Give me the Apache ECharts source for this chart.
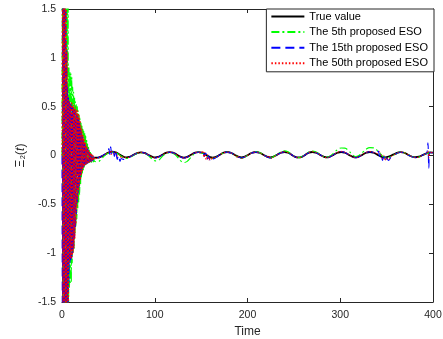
<!DOCTYPE html>
<html>
<head>
<meta charset="utf-8">
<script src="https://cdn.jsdelivr.net/npm/echarts@6/dist/echarts.min.js"></script>
<style>
html,body{margin:0;padding:0;background:#fff;}
#chart{width:443px;height:339px;}
</style>
</head>
<body>
<div id="chart"></div>
<script>
// ---------- DATA ----------
const legendNames = ['True value', 'The 5th proposed ESO', 'The 15th proposed ESO', 'The 50th proposed ESO'];
const xTicks = [0, 100, 200, 300, 400];
const yTicks = [-1.5, -1, -0.5, 0, 0.5, 1, 1.5];

// time points of the initial transient (s)
const tTransient = [
  0, 0.5, 1, 1.5, 2, 2.5, 3, 3.5, 4, 4.5,
  5, 5.5, 6, 6.5, 7, 7.5, 8, 8.5, 9, 9.5,
  10, 10.5, 11, 11.5, 12, 12.5, 13, 13.5, 14, 14.5,
  15, 15.5, 16, 16.5, 17, 17.5, 18, 18.5, 19, 19.5,
  20, 20.5, 21, 21.5, 22, 22.5, 23, 23.5, 24, 24.5,
  25, 25.5, 26, 26.5, 27, 27.5, 28, 28.5, 29, 29.5,
  30, 30.5, 31, 31.5, 32, 32.5, 33, 33.5, 34, 34.5,
  35
];

// True value [time, value]
const trueValue = [
  [0,0],[4,0.01],[8,0.02],[12,0.025],[16,0.02],[20,0.012],[24,0],[28,-0.012],[31,-0.018],[35,-0.022],
  [38.5,-0.022],[42,-0.012],[46,0.008],[50,0.03],[54,0.04],[58,0.032],[62,0.01],[66,-0.01],[69.5,-0.02],
  [73,-0.013],[77,0.006],[81,0.025],[85,0.033],[89,0.026],[93,0.007],[97,-0.012],[100.5,-0.02],
  [104,-0.013],[108,0.007],[112,0.027],[116,0.035],[120,0.028],[124,0.008],[128,-0.013],[131.5,-0.022],
  [135,-0.014],[139,0.007],[143,0.027],[147,0.035],[151,0.028],[155,0.008],[159,-0.013],[162.5,-0.022],
  [166,-0.014],[170,0.007],[174,0.028],[178,0.036],[182,0.028],[186,0.008],[190,-0.012],[193.5,-0.02],
  [197,-0.012],[201,0.008],[205,0.028],[209,0.036],[213,0.028],[217,0.008],[221,-0.012],[224.5,-0.02],
  [228,-0.012],[232,0.008],[236,0.028],[240,0.036],[244,0.028],[247.5,0.008],[251,-0.012],[255,-0.02],
  [259,-0.012],[262.5,0.008],[266,0.028],[270,0.036],[274,0.028],[278,0.008],[282,-0.012],[285.5,-0.02],
  [289,-0.012],[293,0.008],[297,0.028],[301,0.036],[305,0.028],[309,0.008],[313,-0.012],[316.5,-0.02],
  [320,-0.012],[324,0.008],[328,0.028],[332,0.036],[336,0.028],[340,0.008],[344,-0.012],[347.5,-0.02],
  [351,-0.013],[355,0.0],[359,0.018],[365,0.035],[369,0.028],[373,0.008],[377,-0.01],[381,-0.018],
  [385,-0.012],[389,0.005],[393,0.022],[397,0.032],[400,0.03]
];

// 5th proposed ESO
const eso5Transient = [
  0, 2, -2, 2, -2, 2, -2, 2, -2, 2,
  -2, 2, -2, 2, -2, 0.9, -1.35, 0.86, -1.3, 0.84,
  -1.3, 0.8, -1.1, 0.7, -1.0, 0.65, -0.95, 0.6, -0.8, 0.55,
  -0.72, 0.52, -0.65, 0.5, -0.55, 0.46, -0.48, 0.42, -0.4, 0.38,
  -0.3, 0.34, -0.22, 0.3, -0.18, 0.27, -0.15, 0.25, -0.12, 0.23,
  -0.1, 0.2, -0.09, 0.16, -0.085, 0.12, -0.08, 0.09, -0.075, 0.06,
  -0.07, 0.04, -0.07, 0.02, -0.07, 0.0, -0.065, -0.02, -0.065, -0.04,
  -0.06
];
const eso5Steady = [
  [38.5,-0.065],[42,-0.04],[46,0.0],[50,0.025],[54,0.035],[58,0.03],[62,0.005],[66,-0.02],[69.5,-0.03],
  [73,-0.02],[77,0.0],[81,0.022],[85,0.03],[89,0.022],[93,0.0],[97,-0.035],[100.5,-0.055],[104,-0.05],
  [108,-0.01],[112,0.02],[116,0.03],[120,0.02],[124,-0.01],[128,-0.055],[131.5,-0.072],[135,-0.06],
  [139,-0.02],[143,0.02],[147,0.033],[151,0.025],[155,0.005],[159,-0.02],[162.5,-0.03],[166,-0.02],
  [170,0.005],[174,0.026],[178,0.036],[182,0.026],[186,0.005],[190,-0.018],[193.5,-0.028],[197,-0.015],
  [201,0.008],[205,0.03],[209,0.04],[213,0.03],[217,0.008],[221,-0.015],[224.5,-0.025],[228,-0.012],
  [232,0.012],[236,0.035],[240,0.048],[244,0.035],[247.5,0.01],[251,-0.012],[255,-0.022],[259,-0.01],
  [262.5,0.012],[266,0.035],[270,0.045],[274,0.035],[278,0.012],[282,-0.01],[285.5,-0.018],[289,-0.005],
  [293,0.025],[297,0.06],[301,0.077],[305,0.075],[309,0.05],[313,0.01],[316.5,-0.01],[320,0.0],
  [324,0.03],[328,0.065],[332,0.08],[336,0.078],[340,0.05],[344,0.01],[347.5,-0.02],[351,-0.025],
  [355,-0.01],[359,0.01],[365,0.035],[369,0.03],[373,0.01],[377,-0.01],[381,-0.02],[385,-0.015],
  [389,0.0],[393,0.02],[397,0.03],[400,0.03]
];

// 15th proposed ESO
const eso15Transient = [
  0, -2, 2, -2, 2, -2, 2, -2, 2, -2,
  1.08, -2, 0.7, -2, 0.6, -1.3, 0.55, -1.1, 0.53, -1.07,
  0.52, -1.05, 0.5, -1.0, 0.5, -0.95, 0.47, -0.85, 0.46, -0.75,
  0.44, -0.6, 0.42, -0.5, 0.4, -0.4, 0.38, -0.32, 0.33, -0.26,
  0.28, -0.21, 0.24, -0.17, 0.2, -0.14, 0.17, -0.12, 0.14, -0.1,
  0.12, -0.09, 0.1, -0.085, 0.08, -0.08, 0.06, -0.075, 0.045, -0.07,
  0.03, -0.065, 0.02, -0.06, 0.01, -0.055, 0.0, -0.05, -0.01, -0.045,
  -0.035
];
const eso15Steady = [
  [38.5,-0.022],[42,-0.01],[46,0.012],[49,0.03],[50.5,0.07],[51.5,0.01],[52.5,0.09],[53.5,0.02],[55,0.06],
  [56.5,-0.01],[58,0.05],[59.5,-0.04],[61,0.0],[62.5,-0.06],[64,-0.03],[66,-0.04],[69.5,-0.028],
  [73,-0.016],[77,0.004],[81,0.024],[85,0.033],[89,0.026],[93,0.005],[97,-0.016],[100.5,-0.026],
  [104,-0.016],[108,0.005],[112,0.026],[116,0.034],[120,0.027],[124,0.006],[128,-0.016],[131.5,-0.026],
  [135,-0.016],[139,0.006],[143,0.026],[147,0.034],[150.5,0.03],[152,0.05],[153.5,-0.01],[155,0.025],
  [156.5,-0.04],[158,0.0],[159.5,-0.045],[161,-0.015],[163,-0.035],[166,-0.02],[170,0.005],[174,0.026],
  [178,0.035],[182,0.027],[186,0.006],[190,-0.014],[193.5,-0.026],[197,-0.015],[201,0.007],[205,0.027],
  [209,0.035],[213,0.027],[217,0.006],[221,-0.014],[224.5,-0.026],[228,-0.014],[232,0.007],[236,0.027],
  [240,0.036],[244,0.027],[247.5,0.007],[251,-0.013],[255,-0.024],[259,-0.013],[262.5,0.008],[266,0.029],
  [270,0.037],[274,0.029],[278,0.008],[282,-0.013],[285.5,-0.022],[289,-0.012],[293,0.009],[297,0.03],
  [301,0.04],[305,0.031],[309,0.009],[313,-0.012],[316.5,-0.022],[320,-0.012],[324,0.009],[328,0.03],
  [332,0.038],[336,0.03],[339,0.012],[341,0.045],[342.5,-0.01],[344,0.02],[345.5,-0.05],[347,-0.01],
  [348.5,-0.06],[350,-0.025],[352,-0.05],[355,-0.015],[359,0.012],[365,0.033],[369,0.028],[373,0.006],
  [377,-0.012],[381,-0.02],[385,-0.014],[389,0.004],[392,0.018],[393.5,0.03],[394.5,0.13],[395.5,-0.13],
  [396.5,0.03],[400,0.028]
];

// 50th proposed ESO
const eso50Transient = [
  0, 2, -2, 2, -2, 2, -2, 2, -2, 2,
  -2, 1.07, -2, 0.6, -1.6, 0.56, -1.1, 0.55, -1.05, 0.52,
  -1.06, 0.55, -1.04, 0.5, -1.0, 0.52, -0.95, 0.48, -0.85, 0.5,
  -0.7, 0.46, -0.55, 0.47, -0.45, 0.43, -0.36, 0.41, -0.3, 0.36,
  -0.25, 0.3, -0.2, 0.27, -0.16, 0.22, -0.13, 0.19, -0.11, 0.16,
  -0.1, 0.13, -0.09, 0.1, -0.085, 0.08, -0.08, 0.06, -0.075, 0.045,
  -0.07, 0.03, -0.065, 0.02, -0.06, 0.01, -0.055, 0.0, -0.05, -0.01,
  -0.04
];
const eso50Steady = [
  [38.5,-0.025],[42,-0.014],[46,0.01],[50,0.03],[52,0.05],[53,0.005],[54,0.045],[56,0.015],[58,0.035],
  [60,-0.01],[62,0.015],[64,-0.03],[66,-0.008],[69.5,-0.025],[73,-0.015],[77,0.005],[81,0.025],[85,0.033],
  [89,0.025],[93,0.006],[97,-0.015],[100.5,-0.025],[104,-0.016],[108,0.006],[112,0.026],[116,0.035],
  [120,0.027],[124,0.006],[128,-0.016],[131.5,-0.025],[135,-0.016],[139,0.006],[143,0.026],[147,0.034],
  [150,0.02],[151.5,0.05],[153,-0.02],[154,0.035],[155.5,-0.045],[157,0.01],[158.5,-0.05],[160,-0.02],
  [161.5,-0.045],[163,-0.015],[166,-0.02],[170,0.004],[174,0.026],[178,0.036],[182,0.027],[186,0.006],
  [188,0.0],[189,-0.025],[190,-0.01],[193.5,-0.03],[197,-0.015],[201,0.007],[205,0.028],[209,0.036],
  [213,0.027],[217,0.005],[221,-0.015],[222.5,0.0],[224.5,-0.03],[228,-0.015],[232,0.007],[236,0.028],
  [240,0.038],[244,0.028],[247.5,0.007],[251,-0.013],[255,-0.025],[259,-0.013],[262.5,0.008],[266,0.03],
  [270,0.038],[274,0.03],[278,0.008],[282,-0.013],[285.5,-0.022],[289,-0.013],[293,0.01],[297,0.032],
  [301,0.042],[305,0.033],[309,0.01],[313,-0.012],[316.5,-0.022],[320,-0.012],[324,0.01],[328,0.032],
  [332,0.04],[336,0.032],[340,0.02],[342,0.04],[344,0.005],[345.5,-0.03],[347,0.0],[348.5,-0.055],
  [350,-0.02],[352,-0.045],[355,-0.01],[359,0.012],[365,0.035],[369,0.03],[373,0.01],[377,-0.01],
  [381,-0.02],[385,-0.015],[389,0.003],[393,0.02],[394.5,0.05],[395.5,-0.03],[397,0.03],[400,0.03]
];

// ---------- BUILD ----------
function joinSeries(trans, steady) {
  const out = [];
  const n = Math.min(tTransient.length, trans.length);
  for (let i = 0; i < n; i++) out.push([tTransient[i], trans[i]]);
  return out.concat(steady);
}

const FONT = '"Liberation Sans", Arial, Helvetica, sans-serif';
const TXT = '#262626';

const chart = echarts.init(document.getElementById('chart'), null, {renderer: 'canvas'});

const xCommon = {
  type: 'value', min: xTicks[0], max: xTicks[xTicks.length - 1], interval: 100,
  axisLine: {show: true, onZero: false, lineStyle: {color: TXT, width: 1}},
  axisTick: {show: true, inside: true, length: 4, lineStyle: {color: TXT, width: 1}},
  splitLine: {show: false}
};
const yCommon = {
  type: 'value', min: yTicks[0], max: yTicks[yTicks.length - 1], interval: 0.5,
  axisLine: {show: true, onZero: false, lineStyle: {color: TXT, width: 1}},
  axisTick: {show: true, inside: true, length: 4, lineStyle: {color: TXT, width: 1}},
  splitLine: {show: false}
};

const option = {
  animation: false,
  backgroundColor: '#ffffff',
  grid: {left: 62, right: 10, top: 9, bottom: 37, containLabel: false, outerBoundsMode: 'none'},
  legend: {
    data: legendNames,
    orient: 'vertical',
    right: 9, top: 9,
    padding: [2, 6, 3, 4],
    itemGap: 4.6,
    itemWidth: 33,
    itemHeight: 11,
    backgroundColor: '#ffffff',
    borderColor: TXT,
    borderWidth: 1,
    borderRadius: 0,
    itemStyle: {opacity: 0, color: 'rgba(0,0,0,0)', borderWidth: 0},
    textStyle: {fontFamily: FONT, fontSize: 11, color: '#000'},
    selectedMode: false
  },
  xAxis: [
    Object.assign({}, xCommon, {
      position: 'bottom',
      name: 'Time', nameLocation: 'middle', nameGap: 24,
      nameTextStyle: {fontFamily: FONT, fontSize: 12, color: TXT},
      axisLabel: {show: true, fontFamily: FONT, fontSize: 10.5, color: TXT, margin: 8}
    }),
    Object.assign({}, xCommon, {position: 'top', axisLabel: {show: false}})
  ],
  yAxis: [
    Object.assign({}, yCommon, {
      position: 'left',
      name: '{a|Ξ₂(}{i|t}{a|)}', nameLocation: 'middle', nameGap: 29, nameRotate: 90,
      nameTextStyle: {
        fontFamily: FONT, fontSize: 12, color: TXT,
        rich: {
          a: {fontFamily: FONT, fontSize: 12, color: TXT},
          i: {fontFamily: FONT, fontSize: 12, color: TXT, fontStyle: 'italic'}
        }
      },
      axisLabel: {show: true, fontFamily: FONT, fontSize: 10.5, color: TXT, margin: 6}
    }),
    Object.assign({}, yCommon, {position: 'right', axisLabel: {show: false}})
  ],
  series: [
    {
      name: legendNames[0], type: 'line', data: trueValue, smooth: true,
      symbol: 'none', clip: true, z: 2,
      lineStyle: {color: '#000000', width: 1.8, type: 'solid'},
      itemStyle: {color: '#000000'}
    },
    {
      name: legendNames[1], type: 'line', data: joinSeries(eso5Transient, eso5Steady), smooth: 0.4,
      symbol: 'none', clip: true, z: 3,
      lineStyle: {color: '#00ff00', width: 1.2, type: [8, 3, 2, 3]},
      itemStyle: {color: '#00ff00'}
    },
    {
      name: legendNames[2], type: 'line', data: joinSeries(eso15Transient, eso15Steady), smooth: 0.4,
      symbol: 'none', clip: true, z: 4,
      lineStyle: {color: '#0000ff', width: 1.1, type: [9, 5]},
      itemStyle: {color: '#0000ff'}
    },
    {
      name: legendNames[3], type: 'line', data: joinSeries(eso50Transient, eso50Steady), smooth: 0.4,
      symbol: 'none', clip: true, z: 5,
      lineStyle: {color: '#ff0000', width: 1.0, type: [1.5, 2]},
      itemStyle: {color: '#ff0000'}
    }
  ]
};
chart.setOption(option);
</script>
</body>
</html>
